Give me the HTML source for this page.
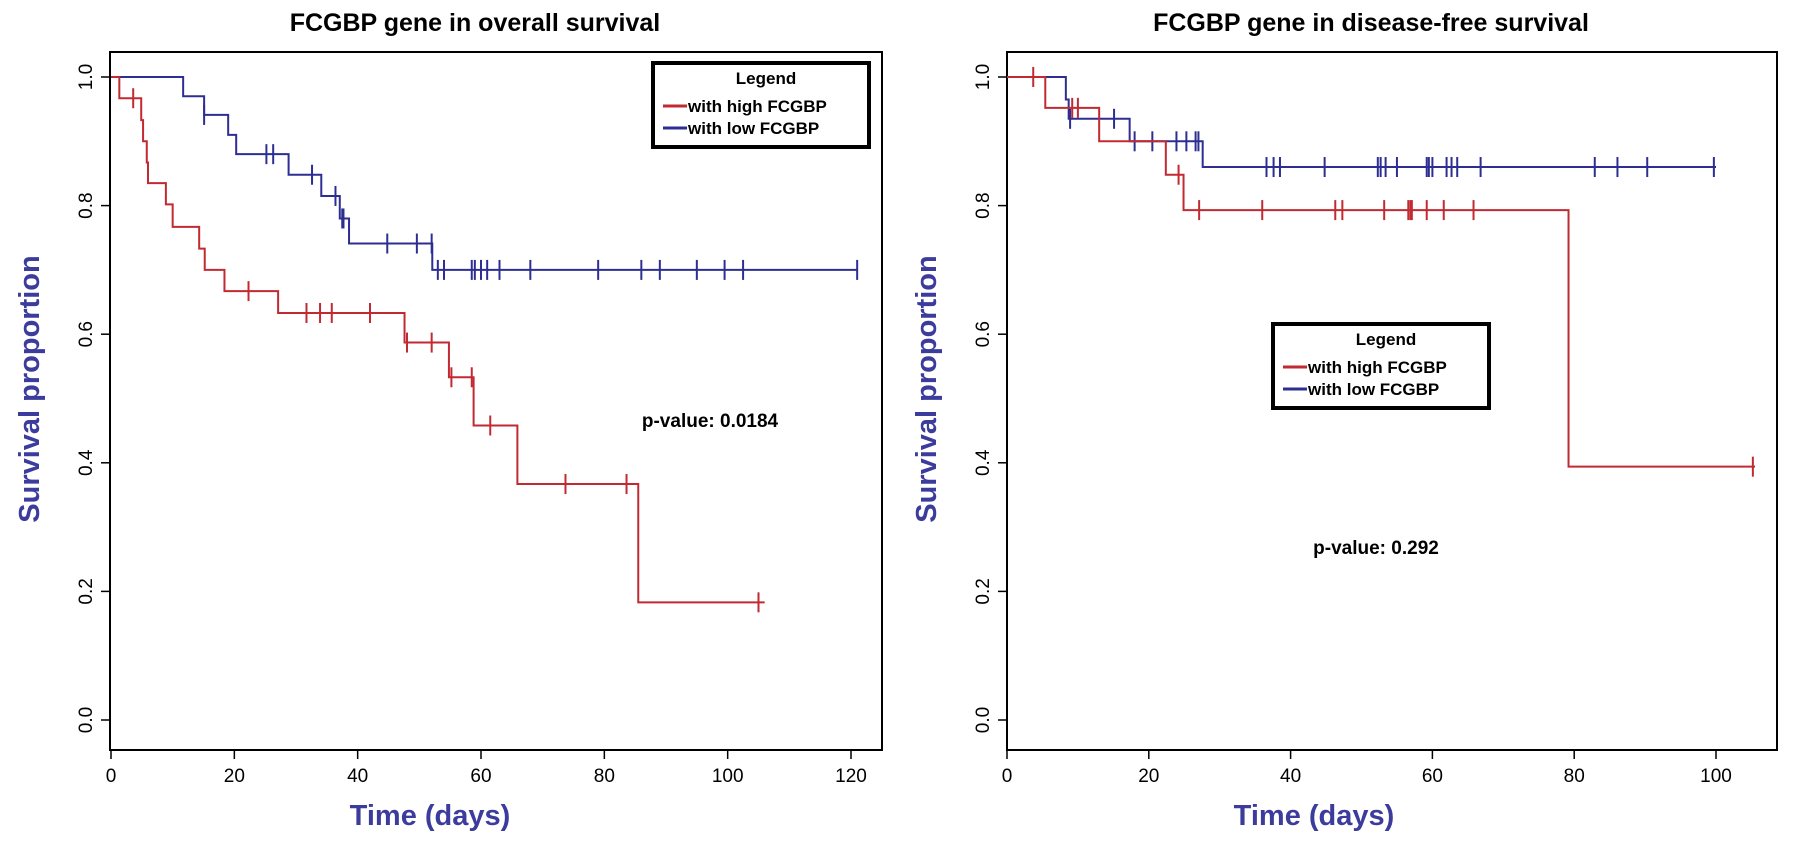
<!DOCTYPE html>
<html><head><meta charset="utf-8"><style>
html,body{margin:0;padding:0;background:#fff;}
svg{display:block;font-family:"Liberation Sans",Arial,sans-serif;}
</style></head><body>
<svg id="chart" width="1795" height="846" viewBox="0 0 1795 846"></svg>
<script>
// ---- Data: overall survival (left) ----
const osHighTimes = [1.35, 4.9, 5.2, 5.8, 6.0, 8.9, 10.0, 14.3, 15.2, 18.4, 27.1, 47.6, 54.8, 58.8, 65.9, 85.5];
const osHighSurv  = [0.967, 0.933, 0.900, 0.867, 0.835, 0.802, 0.767, 0.733, 0.700, 0.667, 0.633, 0.587, 0.533, 0.458, 0.367, 0.183];
const osHighCens  = [3.6, 22.3, 31.7, 33.9, 35.8, 42.0, 48.0, 52.0, 55.2, 58.5, 61.5, 73.7, 83.6, 105.0];
const osHighEnd   = 106;
const osLowTimes  = [11.7, 15.1, 19.0, 20.3, 28.8, 34.1, 37.1, 38.6, 52.1];
const osLowSurv   = [0.970, 0.941, 0.910, 0.880, 0.848, 0.815, 0.780, 0.741, 0.700];
const osLowCens   = [15.1, 25.2, 26.3, 32.6, 36.4, 37.5, 37.7, 44.8, 49.6, 52.0, 53.0, 54.0, 58.5, 59.0, 60.0, 61.0, 63.0, 68.0, 79.0, 86.0, 89.0, 95.0, 99.5, 102.5, 121.0];
const osLowEnd    = 121;
const osXTicks = [0, 20, 40, 60, 80, 100, 120];
// ---- Data: disease-free survival (right) ----
const dfHighTimes = [5.4, 13.0, 22.4, 24.9, 79.2];
const dfHighSurv  = [0.952, 0.900, 0.848, 0.793, 0.394];
const dfHighCens  = [3.7, 9.2, 10.0, 24.2, 27.1, 36.0, 46.3, 47.3, 53.2, 56.6, 56.9, 57.1, 59.2, 61.6, 65.8, 105.2];
const dfHighEnd   = 105.5;
const dfLowTimes  = [8.3, 8.7, 17.3, 27.6];
const dfLowSurv   = [0.965, 0.935, 0.900, 0.860];
const dfLowCens   = [8.9, 15.1, 18.0, 20.5, 23.9, 25.3, 26.6, 27.0, 36.6, 37.6, 38.5, 44.8, 52.3, 52.7, 53.4, 55.0, 59.2, 59.5, 60.0, 62.0, 62.7, 63.5, 66.8, 82.9, 86.1, 90.3, 99.7];
const dfLowEnd    = 100;
const dfXTicks = [0, 20, 40, 60, 80, 100];
const yTicks = [0.0, 0.2, 0.4, 0.6, 0.8, 1.0];

const NS = "http://www.w3.org/2000/svg";
const svg = document.getElementById('chart');
const RED = "#c22a32", BLUE = "#2e2e92", LAB = "#3c3c9c";
function el(tag, attrs, parent, text){
  const e = document.createElementNS(NS, tag);
  for (const k in attrs) e.setAttribute(k, attrs[k]);
  if (text !== undefined) e.textContent = text;
  (parent || svg).appendChild(e);
  return e;
}
function panel(cfg){
  const g = el('g', {});
  
  
  const xs = v => cfg.x0 + v * cfg.xk;
  const ys = v => 720 - v * 643;
  const frame = el('rect', {x: cfg.fl, y: 52, width: cfg.fr - cfg.fl, height: 698, fill: 'none', stroke: '#000', 'stroke-width': 2}, g);
  
  
  const t = el('text', {x: cfg.tx, y: 31, 'text-anchor': 'middle', 'font-size': 25, 'font-weight': 'bold', fill: '#000'}, g, cfg.title);
  
  
  cfg.xt.forEach(v => {
    el('line', {x1: xs(v), x2: xs(v), y1: 750, y2: 759, stroke: '#000', 'stroke-width': 1.5}, g);
    const l = el('text', {x: xs(v), y: 782, 'text-anchor': 'middle', 'font-size': 19, fill: '#000'}, g, String(v));
    
    
  });
  yTicks.forEach(v => {
    el('line', {x1: cfg.fl - 9, x2: cfg.fl, y1: ys(v), y2: ys(v), stroke: '#000', 'stroke-width': 1.5}, g);
    const px = cfg.fl - 18, py = ys(v);
    const l = el('text', {x: px, y: py, 'text-anchor': 'middle', 'font-size': 19, fill: '#000', transform: `rotate(-90 ${px} ${py})`}, g, v.toFixed(1));
    
    
  });
  const xl = el('text', {x: cfg.xlx, y: 825, 'text-anchor': 'middle', 'font-size': 29, 'font-weight': 'bold', fill: LAB}, g, 'Time (days)');
  
  
  const yx = cfg.fl - 71;
  const yl = el('text', {x: yx, y: 389, 'text-anchor': 'middle', 'font-size': 29, 'font-weight': 'bold', fill: LAB, transform: `rotate(-90 ${yx} 389)`}, g, 'Survival proportion');
  
  
  function curve(times, surv, cens, end, color, name){
    let d = `M${xs(0)},${ys(1)}`; let s = 1;
    times.forEach((tm, i) => { d += ` H${xs(tm)} V${ys(surv[i])}`; s = surv[i]; });
    d += ` H${xs(end)}`;
    const p = el('path', {d, fill: 'none', stroke: color, 'stroke-width': 2}, g);
    
    
    cens.forEach(c => {
      let sv = 1;
      times.forEach((tm, i) => { if (tm <= c) sv = surv[i]; });
      const m = el('line', {x1: xs(c), x2: xs(c), y1: ys(sv) - 10, y2: ys(sv) + 10, stroke: color, 'stroke-width': 2}, g);
      
      
    });
  }
  curve(cfg.lt, cfg.ls, cfg.lc, cfg.le, BLUE, 'low-fcgbp');
  curve(cfg.ht, cfg.hs, cfg.hc, cfg.he, RED, 'high-fcgbp');
  const lg = el('g', {}, g);
  
  
  const L = cfg.lx, T = cfg.ly;
  el('rect', {x: L, y: T, width: 216, height: 84, fill: '#fff', stroke: '#000', 'stroke-width': 4}, lg);
  el('text', {x: L + 113, y: T + 21, 'text-anchor': 'middle', 'font-size': 17, 'font-weight': 'bold'}, lg, 'Legend');
  el('line', {x1: L + 10, x2: L + 34, y1: T + 43, y2: T + 43, stroke: RED, 'stroke-width': 3}, lg);
  el('text', {x: L + 35, y: T + 49, 'font-size': 17, 'font-weight': 'bold'}, lg, 'with high FCGBP');
  el('line', {x1: L + 10, x2: L + 34, y1: T + 65, y2: T + 65, stroke: BLUE, 'stroke-width': 3}, lg);
  el('text', {x: L + 35, y: T + 71, 'font-size': 17, 'font-weight': 'bold'}, lg, 'with low FCGBP');
  const pv = el('text', {x: cfg.px, y: cfg.py, 'text-anchor': 'middle', 'font-size': 19, 'font-weight': 'bold'}, g, cfg.pt);
  
  
}
panel({name: 'overall-survival-panel', title: 'FCGBP gene in overall survival', x0: 111, xk: 740/120, fl: 110, fr: 882, tx: 475, xlx: 430,
  xt: osXTicks, ht: osHighTimes, hs: osHighSurv, hc: osHighCens, he: osHighEnd, lt: osLowTimes, ls: osLowSurv, lc: osLowCens, le: osLowEnd,
  lx: 653, ly: 63, px: 710, py: 427, pt: 'p-value: 0.0184'});
panel({name: 'disease-free-survival-panel', title: 'FCGBP gene in disease-free survival', x0: 1007, xk: 7.09, fl: 1007, fr: 1777, tx: 1371, xlx: 1314,
  xt: dfXTicks, ht: dfHighTimes, hs: dfHighSurv, hc: dfHighCens, he: dfHighEnd, lt: dfLowTimes, ls: dfLowSurv, lc: dfLowCens, le: dfLowEnd,
  lx: 1273, ly: 324, px: 1376, py: 554, pt: 'p-value: 0.292'});
</script>
</body></html>
